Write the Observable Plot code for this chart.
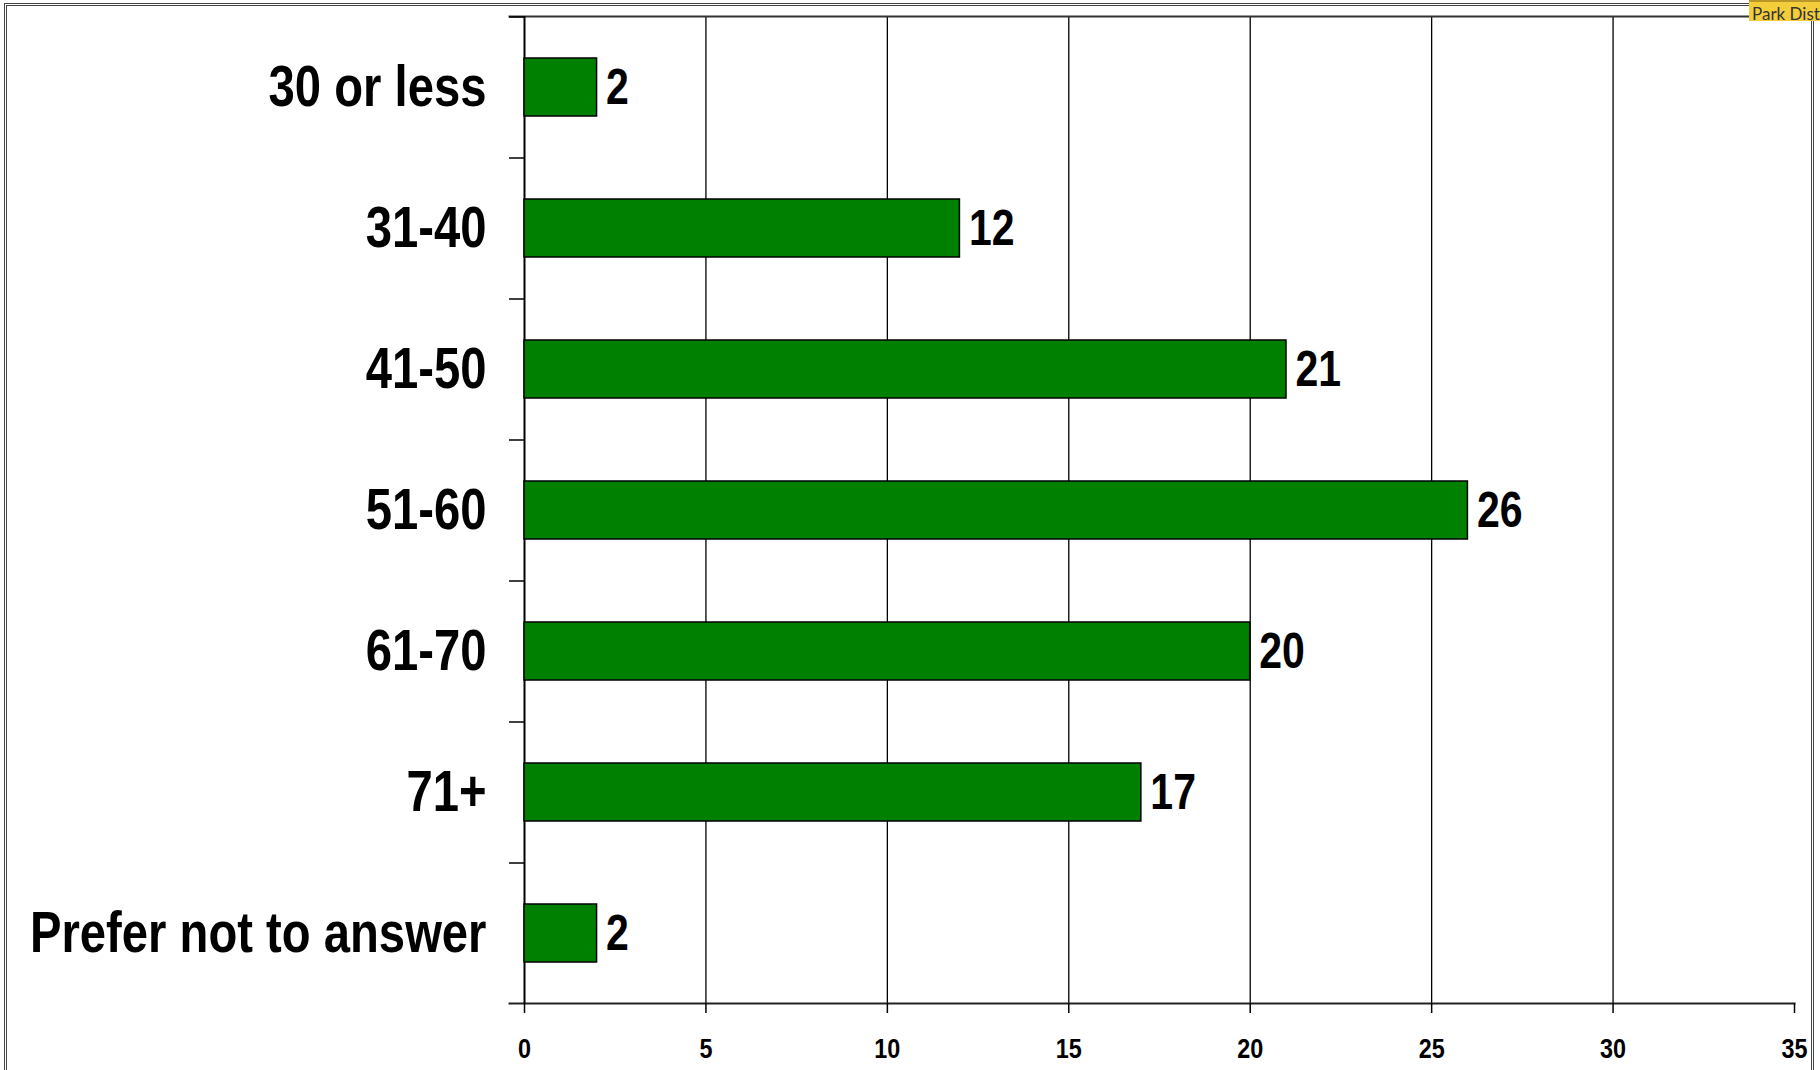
<!DOCTYPE html>
<html>
<head>
<meta charset="utf-8">
<script src="https://cdn.jsdelivr.net/npm/d3@7"></script>
<script src="https://cdn.jsdelivr.net/npm/@observablehq/plot@0.6"></script>
<style>
  html, body { margin: 0; padding: 0; background: #fff; }
  #wrap { position: relative; width: 1820px; height: 1070px; overflow: hidden; }
  #border { position: absolute; left: 4px; top: 3px; width: 1810px; height: 1100px;
            border: 3px double #444; box-sizing: border-box; pointer-events: none; }
  #tag { position: absolute; left: 1749px; top: 0px; width: 71px; height: 21px;
         background: #F3CE3A; font-family: Lato, "Open Sans", sans-serif; font-size: 17px;
         line-height: 16px; color: #333; padding: 4px 0 0 3px; box-sizing: border-box; overflow: hidden;
         white-space: nowrap; border-top: 2px solid #B8962A; }
  svg { font-family: "Liberation Sans", Arial, sans-serif; }
</style>
</head>
<body>
<div id="wrap">
  <div id="chart"></div>
  <div id="border"></div>
  <div id="tag">Park Dist</div>
</div>
<script>
const categories = ["30 or less", "31-40", "41-50", "51-60", "61-70", "71+", "Prefer not to answer"];
const counts = [2, 12, 21, 26, 20, 17, 2];
const xTicks = [0, 5, 10, 15, 20, 25, 30, 35];
const gridTicks = [5, 10, 15, 20, 25, 30];

const data = categories.map((c, i) => ({category: c, count: counts[i]}));

const W = 1820, H = 1070;
const mL = 524, mR = 26, mT = 16, mB = 67;
const step = (H - mT - mB) / categories.length;
const SX = 0.82; // horizontal condensing to mimic a narrow bold face

const chart = Plot.plot({
  width: W,
  height: H,
  marginLeft: mL,
  marginRight: mR,
  marginTop: mT,
  marginBottom: mB,
  style: {background: "transparent", overflow: "visible"},
  x: {domain: [0, 35], label: null},
  y: {domain: categories, paddingInner: 0.59, paddingOuter: 0.295, label: null},
  marks: [
    Plot.gridX(gridTicks, {stroke: "#000", strokeOpacity: 1, strokeWidth: 1.3}),
    Plot.frame({anchor: "top", stroke: "#333", strokeWidth: 2, insetLeft: -15}),
    Plot.frame({anchor: "bottom", stroke: "#222", strokeWidth: 2, insetLeft: -15}),
    Plot.ruleX([0], {stroke: "#000", strokeWidth: 2}),
    Plot.axisY({ticks: categories, tickSize: 15, text: null, label: null, dy: -step / 2, stroke: "#000", strokeWidth: 1.5}),
    Plot.axisY({tickSize: 0, tickPadding: 38, fontSize: 57.6, fontWeight: "bold", fill: "#000", label: null}),
    Plot.axisX({ticks: xTicks, tickSize: 10, tickPadding: 24, fontSize: 28.5, fontWeight: "bold", fill: "#000", stroke: "#000", strokeWidth: 1.5, label: null}),
    Plot.barX(data, {x: "count", y: "category", fill: "#008000", stroke: "#000", strokeWidth: 1.5}),
    Plot.text(data, {x: "count", y: "category", text: d => String(d.count), textAnchor: "start", dx: 9,
      fontSize: 50, fontWeight: "bold", fill: "#000"})
  ]
});
document.getElementById("chart").appendChild(chart);

chart.querySelectorAll("text").forEach(t => {
  const xa = t.getAttribute("x");
  if (xa !== null && !isNaN(+xa)) t.setAttribute("x", +xa / SX);
  const tr = t.getAttribute("transform") || "";
  t.setAttribute("transform", `${tr} scale(${SX},1)`);
});
</script>
</body>
</html>
